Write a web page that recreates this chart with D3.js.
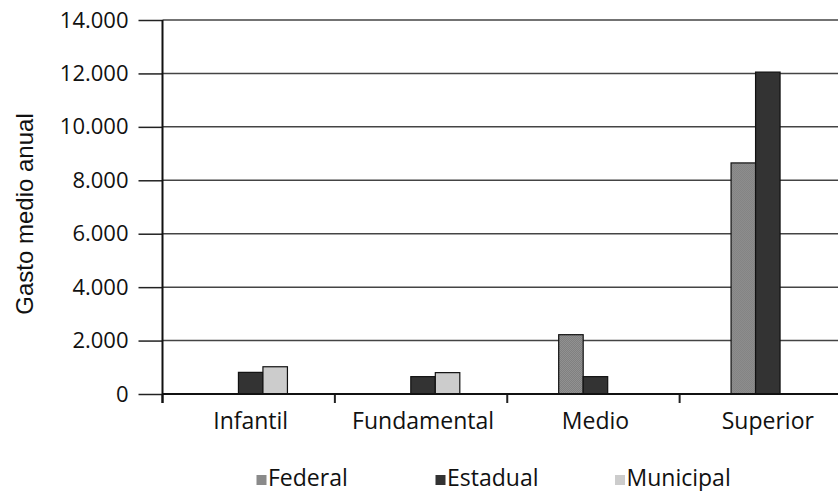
<!DOCTYPE html>
<html>
<head>
<meta charset="utf-8">
<script src="https://cdn.jsdelivr.net/npm/d3@7"></script>
<style>
  html, body { margin: 0; padding: 0; background: #fff; }
  svg { display: block; }
</style>
</head>
<body>
<svg id="chart" width="838" height="491"></svg>
<script>
const categories = ["Infantil", "Fundamental", "Medio", "Superior"];
const seriesNames = ["Federal", "Estadual", "Municipal"];
const federal = [0, 0, 2220, 8650];
const estadual = [810, 650, 650, 12050];
const municipal = [1020, 800, 0, 0];
const yTicks = [0, 2000, 4000, 6000, 8000, 10000, 12000, 14000];
const yTitle = "Gasto medio anual";

const seriesValues = [federal, estadual, municipal];
const colors = { Federal: "url(#fedPattern)", Estadual: "#333333", Municipal: "#cccccc" };
const legendColors = { Federal: "#8a8a8a", Estadual: "#333333", Municipal: "#cccccc" };

const svg = d3.select("#chart");
const defs = svg.append("defs");
const pat = defs.append("pattern").attr("id", "fedPattern")
  .attr("width", 2).attr("height", 2).attr("patternUnits", "userSpaceOnUse");
pat.append("rect").attr("width", 2).attr("height", 2).attr("fill", "#9a9a9a");
pat.append("rect").attr("width", 1).attr("height", 1).attr("fill", "#777");
pat.append("rect").attr("x", 1).attr("y", 1).attr("width", 1).attr("height", 1).attr("fill", "#777");

const mLeft = 162.5, mTop = 20, mBottom = 394, mRight = 852;
const x0 = d3.scaleBand().domain(categories).range([mLeft, mRight]).padding(0);
const barW = 24.5;
const x1 = d3.scaleBand().domain(seriesNames)
  .range([x0.bandwidth() / 2 - 1.5 * barW + 2, x0.bandwidth() / 2 + 1.5 * barW + 2]).padding(0);
const y = d3.scaleLinear().domain([0, 14000]).range([mBottom, mTop]);

const font = "'Open Sans', 'Noto Sans', sans-serif";

// gridlines
svg.append("g").selectAll("line").data(yTicks.filter(d => d > 0)).join("line")
  .attr("x1", mLeft).attr("x2", 838)
  .attr("y1", d => y(d)).attr("y2", d => y(d))
  .attr("stroke", "#444").attr("stroke-width", 1.5);

// y axis
const yAxis = d3.axisLeft(y).tickValues(yTicks).tickSize(24).tickPadding(10)
  .tickFormat(d => d3.format(",")(d).replace(/,/g, "."));
const gy = svg.append("g").attr("transform", `translate(${mLeft},0)`).call(yAxis);
gy.select(".domain").remove();
gy.selectAll(".tick line").attr("stroke", "#222").attr("stroke-width", 1.5);
gy.selectAll(".tick text").attr("font-family", font).attr("font-size", 22).attr("fill", "#111");

// bars
const groups = svg.append("g").selectAll("g").data(categories).join("g")
  .attr("transform", d => `translate(${x0(d)},0)`);
groups.selectAll("rect")
  .data((c, i) => seriesNames.map((s, j) => ({ s, v: seriesValues[j][i] })).filter(d => d.v > 0))
  .join("rect")
  .attr("x", d => x1(d.s)).attr("width", x1.bandwidth())
  .attr("y", d => y(d.v)).attr("height", d => y(0) - y(d.v))
  .attr("fill", d => colors[d.s]).attr("stroke", "#111").attr("stroke-width", 1.2);

// x axis
const xAxis = d3.axisBottom(x0).tickSize(0).tickPadding(19);
const gx = svg.append("g").attr("transform", `translate(0,${mBottom})`).call(xAxis);
gx.select(".domain").remove();
gx.selectAll(".tick text").attr("font-family", font).attr("font-size", 23).attr("fill", "#111")
  .attr("dx", 2);
// category boundary ticks
svg.append("g").selectAll("line").data(categories).join("line")
  .attr("x1", d => x0(d)).attr("x2", d => x0(d))
  .attr("y1", mBottom).attr("y2", mBottom + 9)
  .attr("stroke", "#222").attr("stroke-width", 2);

// axis lines
svg.append("line").attr("x1", mLeft).attr("x2", 838).attr("y1", mBottom).attr("y2", mBottom)
  .attr("stroke", "#111").attr("stroke-width", 2.2);
svg.append("line").attr("x1", mLeft).attr("x2", mLeft).attr("y1", mTop).attr("y2", mBottom + 9)
  .attr("stroke", "#111").attr("stroke-width", 2);

// y title
svg.append("text")
  .attr("transform", `translate(33,214) rotate(-90)`)
  .attr("text-anchor", "middle")
  .attr("font-family", "'Liberation Sans', Arial, sans-serif")
  .attr("font-size", 24).attr("fill", "#111")
  .text(yTitle);

// legend
const legendX = [256.5, 435.5, 615];
const lg = svg.append("g").selectAll("g").data(seriesNames).join("g")
  .attr("transform", (d, i) => `translate(${legendX[i]},475)`);
lg.append("rect").attr("width", 10).attr("height", 10).attr("fill", d => legendColors[d]);
lg.append("text").attr("x", 11.5).attr("y", 10.5)
  .attr("font-family", font).attr("font-size", 23).attr("fill", "#111")
  .text(d => d);
</script>
</body>
</html>
